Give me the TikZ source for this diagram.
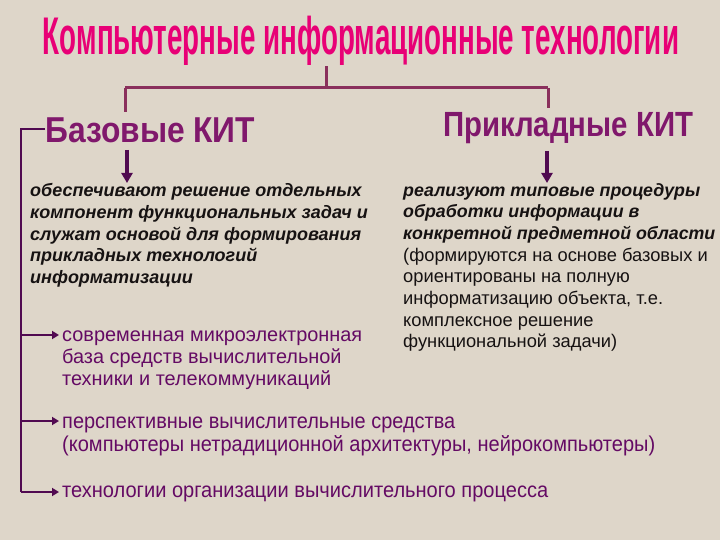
\documentclass[tikz,border=0pt]{standalone}
\usepackage{fontspec}
\setmainfont{Liberation Sans}
\usepackage{graphicx}
\usetikzlibrary{arrows.meta}
\definecolor{bg}{RGB}{222,214,201}
\definecolor{titlepink}{RGB}{232,0,118}
\definecolor{kit}{RGB}{128,24,108}
\definecolor{conn}{RGB}{138,48,92}
\definecolor{purp}{RGB}{100,10,100}
\definecolor{brk}{RGB}{80,10,80}
\definecolor{itxt}{RGB}{22,18,18}
\newcommand\fitw[2]{\resizebox{#1}{\height}{#2}}
\tikzset{
  conline/.style={draw=conn, line width=3pt},
  downarr/.style={draw=brk, line width=4pt, -{Triangle[width=11pt,length=10pt]}},
  brkline/.style={draw=brk, line width=2pt},
  brkarr/.style={draw=brk, line width=2pt, shorten >=3pt, -{Triangle[width=8pt,length=7pt,fill=purp]}},
  txt/.style={inner sep=0pt, align=left},
}
\begin{document}
\begin{tikzpicture}[x=1pt,y=-1pt]
\fill[bg] (0,0) rectangle (720,540);
\useasboundingbox (0,0) rectangle (720,540);

\node[txt, anchor=base, text=titlepink] (title) at (361,55)
  {\fitw{636pt}{\fontsize{53}{53}\selectfont\bfseries Компьютерные информационные технологии}};

\node[txt, anchor=base west, text=kit] (baz) at (45,143)
  {\fitw{210pt}{\fontsize{36}{36}\selectfont\bfseries Базовые КИТ}};
\node[txt, anchor=base west, text=kit] (prik) at (443,137)
  {\fitw{250pt}{\fontsize{35}{35}\selectfont\bfseries Прикладные КИТ}};

\coordinate (hub) at (326,88);
\coordinate (hl) at (125,88);
\coordinate (hr) at (548,88);
\draw[conline] (title.south -| hub) -- (hub);
\draw[conline] (hl) -- (hr);
\draw[conline] (hl) -- (125,112);
\draw[conline] (hr) -- (548,108);

\node[txt, anchor=north west, text=itxt, font=\fontsize{18}{21.8}\selectfont\bfseries\itshape] (lt) at (30,183)
  {обеспечивают решение отдельных\\
   компонент функциональных задач и\\
   служат основой для формирования\\
   прикладных технологий\\
   информатизации};

\node[txt, anchor=north west, text=itxt, font=\fontsize{18.3}{21.7}\selectfont] (rt) at (403,183)
  {\textbf{\textit{\fontsize{17.8}{21.7}\selectfont реализуют типовые процедуры}}\\
   \textbf{\textit{\fontsize{17.8}{21.7}\selectfont обработки информации в}}\\
   \textbf{\textit{\fontsize{17.8}{21.7}\selectfont конкретной предметной области}}\\
   (формируются на основе базовых и\\
   ориентированы на полную\\
   информатизацию объекта, т.е.\\
   комплексное решение\\
   функциональной задачи)};

\coordinate (a1s) at (127,150);
\coordinate (a2s) at (547,151);
\draw[downarr] (a1s) -- (a1s |- lt.north);
\draw[downarr] (a2s) -- (a2s |- rt.north);

\node[txt, anchor=north west, text=purp, font=\fontsize{19.9}{22}\selectfont] (p1) at (62,331)
  {современная микроэлектронная\\
   база средств вычислительной\\
   техники и телекоммуникаций};

\node[txt, anchor=north west, text=purp, font=\fontsize{21.5}{22.5}\selectfont] (p2) at (62,417)
  {\fitw{393pt}{перспективные вычислительные средства}\\
   \fitw{593pt}{(компьютеры нетрадиционной архитектуры, нейрокомпьютеры)}};

\node[txt, anchor=north west, text=purp, font=\fontsize{21.5}{22}\selectfont] (p3) at (62,486)
  {\fitw{486pt}{технологии организации вычислительного процесса}};

\coordinate (bt) at (21,129);
\coordinate (bb) at (21,492);
\draw[brkline] (baz.west |- bt) -- (bt) -- (bb);
\draw[brkarr] (21,335) -- (p1.west |- 21,335);
\draw[brkarr] (21,421) -- (p2.west |- 21,421);
\draw[brkarr] (bb) -- (p3.west |- bb);
\end{tikzpicture}
\end{document}
